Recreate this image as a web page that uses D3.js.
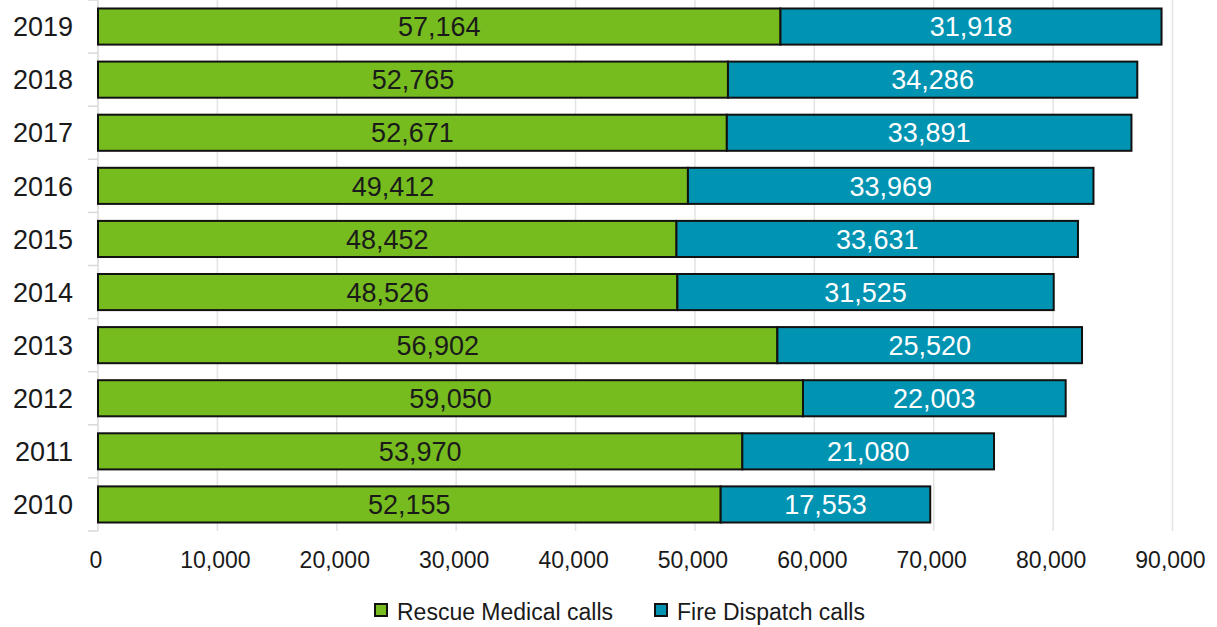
<!DOCTYPE html>
<html><head><meta charset="utf-8">
<script src="https://cdn.jsdelivr.net/npm/d3@7"></script>
<style>body{margin:0;background:#fff;}svg{display:block;font-family:"Liberation Sans",Arial,sans-serif;}</style>
</head><body>
<svg id="c" width="1217" height="627"></svg>
<script>
const years = ["2019","2018","2017","2016","2015","2014","2013","2012","2011","2010"];
const rescueMedical = [57164,52765,52671,49412,48452,48526,56902,59050,53970,52155];
const fireDispatch = [31918,34286,33891,33969,33631,31525,25520,22003,21080,17553];
const xTicks = [0,10000,20000,30000,40000,50000,60000,70000,80000,90000];
const seriesNames = ["Rescue Medical calls","Fire Dispatch calls"];
const colors = ["#77bc1f","#0093b2"];
const labelColors = ["#1a1a1a","#ffffff"];

(function(){
const svg = d3.select("#c");
const pL = 98, pR = 1172.5, pT = 0, pB = 531;
const x = d3.scaleLinear().domain([0,90000]).range([pL,pR]);
const y = d3.scaleBand().domain(years).range([pT,pB]).paddingInner(0.32).paddingOuter(0.16);
const fmt = d3.format(",");

// gridlines
svg.append("g").selectAll("line").data(xTicks.slice(1)).join("line")
  .attr("x1",d=>x(d)).attr("x2",d=>x(d)).attr("y1",pT).attr("y2",pB)
  .attr("stroke","#e3e3e3").attr("stroke-width",1.5);

// y axis line and ticks
svg.append("line").attr("x1",pL).attr("x2",pL).attr("y1",pT).attr("y2",pB).attr("stroke","#d9d9d9").attr("stroke-width",1.5);
svg.append("g").selectAll("line").data(d3.range(years.length+1)).join("line")
  .attr("x1",pL-10).attr("x2",pL).attr("y1",i=>pT+i*(pB-pT)/years.length).attr("y2",i=>pT+i*(pB-pT)/years.length)
  .attr("stroke","#d9d9d9").attr("stroke-width",1.5);

const rows = years.map((yr,i)=>({yr, a:rescueMedical[i], b:fireDispatch[i]}));
const segs = [];
rows.forEach(r=>{
  segs.push({yr:r.yr, x0:0, x1:r.a, v:r.a, s:0});
  segs.push({yr:r.yr, x0:r.a, x1:r.a+r.b, v:r.b, s:1});
});

svg.append("g").selectAll("rect").data(segs).join("rect")
  .attr("x",d=>x(d.x0)).attr("width",d=>x(d.x1)-x(d.x0))
  .attr("y",d=>y(d.yr)).attr("height",y.bandwidth())
  .attr("fill",d=>colors[d.s]).attr("stroke","#111").attr("stroke-width",2);

svg.append("g").selectAll("text").data(segs).join("text")
  .attr("x",d=>(x(d.x0)+x(d.x1))/2).attr("y",d=>y(d.yr)+y.bandwidth()/2)
  .attr("dy","0.36em").attr("text-anchor","middle").attr("font-size",27)
  .attr("fill",d=>labelColors[d.s]).text(d=>fmt(d.v));

// y labels
svg.append("g").selectAll("text").data(years).join("text")
  .attr("x",73).attr("y",d=>y(d)+y.bandwidth()/2).attr("dy","0.36em")
  .attr("text-anchor","end").attr("font-size",27).attr("fill","#1a1a1a").text(d=>d);

// x labels
svg.append("g").selectAll("text").data(xTicks).join("text")
  .attr("x",d=>x(d)-2).attr("y",568)
  .attr("text-anchor","middle").attr("font-size",23).attr("fill","#1a1a1a").text(d=>fmt(d));

// legend
const lg = svg.append("g");
const items = [{x:375},{x:655}];
seriesNames.forEach((n,i)=>{
  lg.append("rect").attr("x",items[i].x).attr("y",604).attr("width",12).attr("height",12)
    .attr("fill",colors[i]).attr("stroke","#111").attr("stroke-width",2);
  lg.append("text").attr("x",items[i].x+22).attr("y",620)
    .attr("font-size",23).attr("fill","#1a1a1a").text(n);
});
})();
</script>
</body></html>
